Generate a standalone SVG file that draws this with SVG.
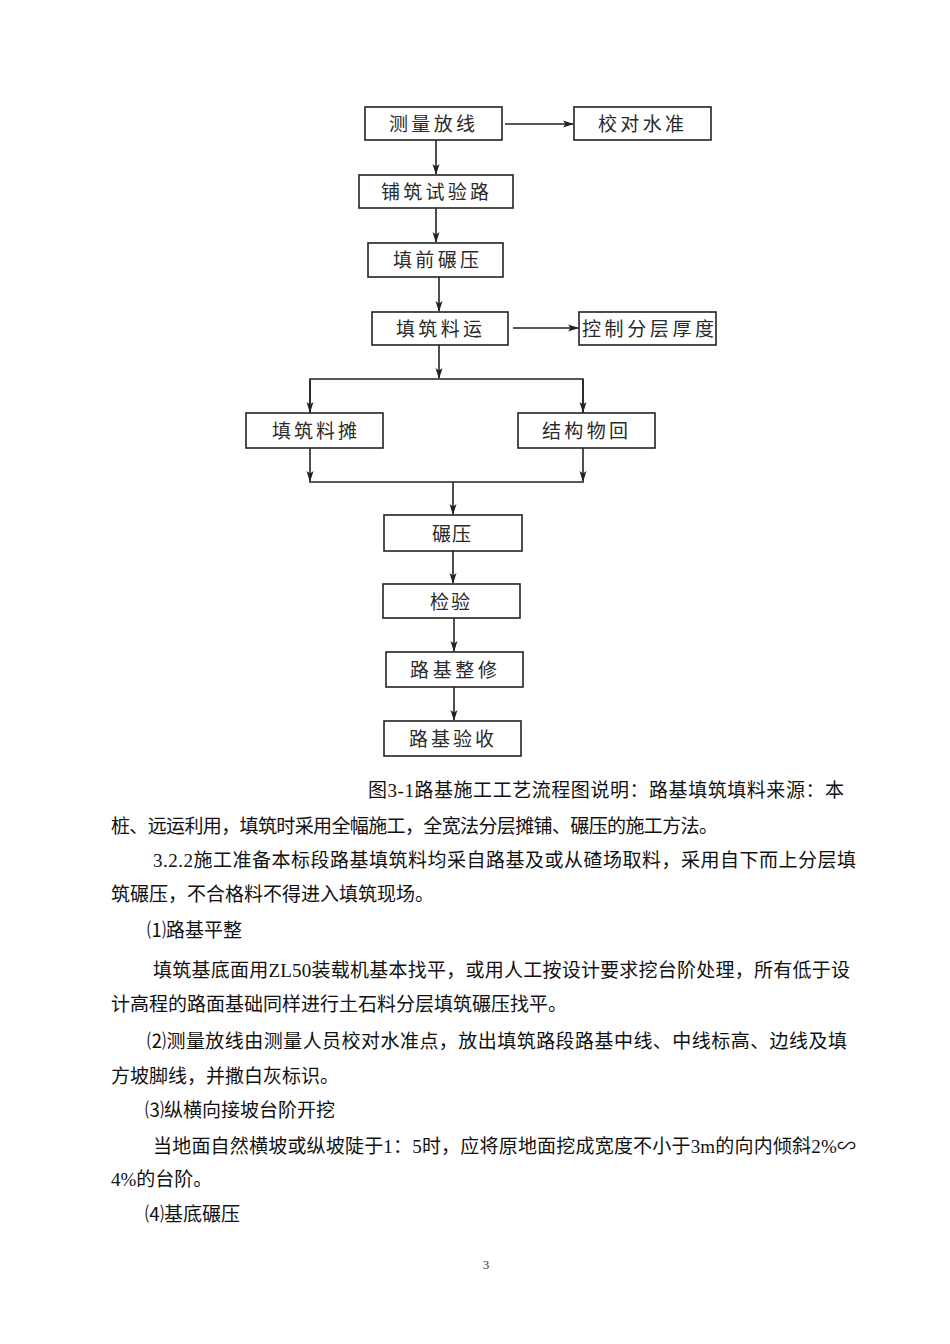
<svg xmlns="http://www.w3.org/2000/svg" width="950" height="1344" viewBox="0 0 950 1344">
<style>
.box{fill:#fff;stroke:#222;stroke-width:1.6}
.lbl{font-family:"Noto Sans CJK SC",sans-serif;font-size:19px;fill:#2a2a2a}
.con{fill:none;stroke:#222;stroke-width:1.6}
.body{font-family:"Liberation Serif","Noto Sans CJK SC",serif;font-size:19px;fill:#111}
.pg{font-family:"Liberation Serif",serif;font-size:13px;fill:#333}
</style>
<defs>
<marker id="ah" markerWidth="11" markerHeight="8" refX="10" refY="4" orient="auto" markerUnits="userSpaceOnUse">
<path d="M0,0.5 L11,4 L0,7.5 L2.5,4 z" fill="#222"/>
</marker>
</defs>
<rect width="950" height="1344" fill="#fff"/>

<g id="connectors">
<line class="con" x1="505" y1="124" x2="573" y2="124" marker-end="url(#ah)"/>
<line class="con" x1="436" y1="140" x2="436" y2="174" marker-end="url(#ah)"/>
<line class="con" x1="436" y1="208" x2="436" y2="242" marker-end="url(#ah)"/>
<line class="con" x1="439" y1="277" x2="439" y2="311" marker-end="url(#ah)"/>
<line class="con" x1="513" y1="328" x2="578" y2="328" marker-end="url(#ah)"/>
<line class="con" x1="439" y1="345" x2="439" y2="378" marker-end="url(#ah)"/>
<polyline class="con" points="310,413 310,379 583,379 583,413"/>
<line class="con" x1="310" y1="380" x2="310" y2="412" marker-end="url(#ah)"/>
<line class="con" x1="583" y1="380" x2="583" y2="412" marker-end="url(#ah)"/>
<line class="con" x1="310" y1="448" x2="310" y2="481" marker-end="url(#ah)"/>
<line class="con" x1="583" y1="448" x2="583" y2="481" marker-end="url(#ah)"/>
<line class="con" x1="309" y1="482" x2="584" y2="482"/>
<line class="con" x1="453" y1="482" x2="453" y2="514" marker-end="url(#ah)"/>
<line class="con" x1="453" y1="551" x2="453" y2="583" marker-end="url(#ah)"/>
<line class="con" x1="454" y1="618" x2="454" y2="651" marker-end="url(#ah)"/>
<line class="con" x1="454" y1="687" x2="454" y2="720" marker-end="url(#ah)"/>
</g>

<g id="n1"><rect class="box" x="365" y="107" width="137" height="33"/><text class="lbl" x="389" y="131" textLength="86" lengthAdjust="spacing">测量放线</text></g>
<g id="n2"><rect class="box" x="574" y="107" width="137" height="33"/><text class="lbl" x="598" y="131" textLength="86" lengthAdjust="spacing">校对水准</text></g>
<g id="n3"><rect class="box" x="359" y="175" width="154" height="33"/><text class="lbl" x="381" y="199" textLength="108" lengthAdjust="spacing">铺筑试验路</text></g>
<g id="n4"><rect class="box" x="368" y="243" width="135" height="34"/><text class="lbl" x="393" y="267" textLength="86" lengthAdjust="spacing">填前碾压</text></g>
<g id="n5"><rect class="box" x="372" y="312" width="136" height="33"/><text class="lbl" x="396" y="336" textLength="86" lengthAdjust="spacing">填筑料运</text></g>
<g id="n6"><rect class="box" x="579" y="312" width="137" height="33"/><text class="lbl" x="582" y="336" textLength="132" lengthAdjust="spacing">控制分层厚度</text></g>
<g id="n7"><rect class="box" x="246" y="413" width="137" height="35"/><text class="lbl" x="272" y="438" textLength="85" lengthAdjust="spacing">填筑料摊</text></g>
<g id="n8"><rect class="box" x="518" y="413" width="137" height="35"/><text class="lbl" x="542" y="438" textLength="86" lengthAdjust="spacing">结构物回</text></g>
<g id="n9"><rect class="box" x="384" y="515" width="138" height="36"/><text class="lbl" x="432" y="541" textLength="39" lengthAdjust="spacing">碾压</text></g>
<g id="n10"><rect class="box" x="383" y="584" width="137" height="34"/><text class="lbl" x="430" y="609" textLength="40" lengthAdjust="spacing">检验</text></g>
<g id="n11"><rect class="box" x="386" y="652" width="137" height="35"/><text class="lbl" x="410" y="677" textLength="87" lengthAdjust="spacing">路基整修</text></g>
<g id="n12"><rect class="box" x="384" y="721" width="137" height="35"/><text class="lbl" x="409" y="746" textLength="85" lengthAdjust="spacing">路基验收</text></g>

<g id="bodytext">
<text class="body" x="368" y="797" textLength="476" lengthAdjust="spacing">图3-1路基施工工艺流程图说明：路基填筑填料来源：本</text>
<text class="body" x="111" y="833" textLength="607" lengthAdjust="spacing">桩、远运利用，填筑时采用全幅施工，全宽法分层摊铺、碾压的施工方法。</text>
<text class="body" x="153" y="867" textLength="703" lengthAdjust="spacing">3.2.2施工准备本标段路基填筑料均采自路基及或从碴场取料，采用自下而上分层填</text>
<text class="body" x="111" y="901">筑碾压，不合格料不得进入填筑现场。</text>
<text class="body" x="147" y="937">⑴路基平整</text>
<text class="body" x="153" y="977" textLength="697" lengthAdjust="spacing">填筑基底面用ZL50装载机基本找平，或用人工按设计要求挖台阶处理，所有低于设</text>
<text class="body" x="111" y="1011">计高程的路面基础同样进行土石料分层填筑碾压找平。</text>
<text class="body" x="147" y="1048" textLength="700" lengthAdjust="spacing">⑵测量放线由测量人员校对水准点，放出填筑路段路基中线、中线标高、边线及填</text>
<text class="body" x="111" y="1083">方坡脚线，并撒白灰标识。</text>
<text class="body" x="145" y="1117">⑶纵横向接坡台阶开挖</text>
<text class="body" x="153" y="1153" textLength="703" lengthAdjust="spacing">当地面自然横坡或纵坡陡于1：5时，应将原地面挖成宽度不小于3m的向内倾斜2%∽</text>
<text class="body" x="111" y="1186">4%的台阶。</text>
<text class="body" x="145" y="1221">⑷基底碾压</text>
<text class="pg" x="486" y="1269" text-anchor="middle">3</text>
</g>
</svg>
